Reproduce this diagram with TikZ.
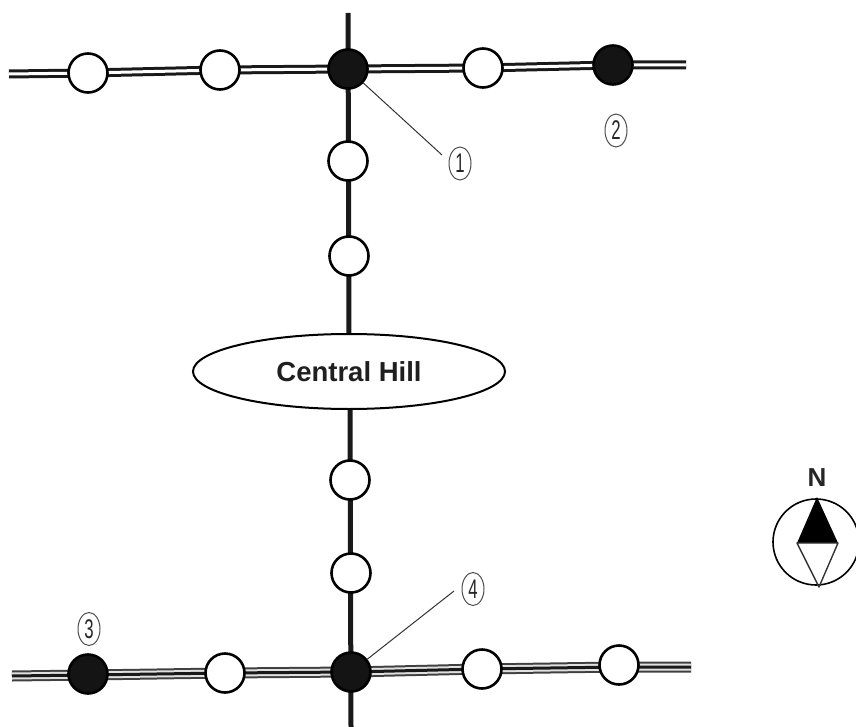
\documentclass[tikz,border=0pt]{standalone}
\usepackage{graphicx}
\usepackage{fontspec}
\setmainfont{Liberation Sans}
\usetikzlibrary{shapes.geometric}
\newcommand{\tagdigit}[1]{\scalebox{0.62}[1]{#1}}
\tikzset{
  x=1pt,y=-1pt,
  stop/.style={circle,draw=black,line width=2.6pt,fill=white,minimum size=39pt,inner sep=0pt},
  dark/.style={stop,fill=black!92},
  road/.style={line width=9pt,black!90},
  roadin/.style={line width=3pt,white},
  roadb/.style={line width=11pt,black!75},
  roadbin/.style={line width=7pt,black!12},
  roadbmid/.style={line width=3pt,black!90},
  rail/.style={line width=5pt,black!90},
  tag/.style={ellipse,draw=black!70,line width=1pt,minimum width=22pt,minimum height=33pt,inner sep=0pt,font=\fontsize{27}{27}\selectfont,text=black!85},
  leader/.style={line width=1pt,black!80},
  hill/.style={ellipse,draw=black,line width=2pt,fill=white,minimum width=312pt,minimum height=75pt,inner sep=0pt,font=\bfseries\fontsize{27.5}{29}\selectfont,text=black!88}
}
\begin{document}
\begin{tikzpicture}
\useasboundingbox (0,0) rectangle (856,727);
\coordinate (tl) at (9,74);
\coordinate (tr) at (686,65);
\coordinate (bl) at (12,676);
\coordinate (br) at (691,667);
\coordinate (vt) at (348,13);
\coordinate (vb) at (351,727);
\draw[road] (tl) -- (88,73) -- (220,70) -- (348,69) -- (483,68) -- (613,65) -- (tr);
\draw[roadin] (tl) -- (88,73) -- (220,70) -- (348,69) -- (483,68) -- (613,65) -- (tr);
\draw[roadb] (bl) -- (88,675) -- (225,673) -- (351,672) -- (481,669) -- (619,667) -- (br);
\draw[roadbin] (bl) -- (88,675) -- (225,673) -- (351,672) -- (481,669) -- (619,667) -- (br);
\draw[roadbmid] (bl) -- (88,675) -- (225,673) -- (351,672) -- (481,669) -- (619,667) -- (br);
\draw[rail] (vt) -- (349,340) (350,405) -- (vb);
\node[stop] (a1) at (88,73) {};
\node[stop] (a2) at (220,70) {};
\node[dark] (a3) at (348,69) {};
\node[stop] (a4) at (483,68) {};
\node[dark] (a5) at (613,65) {};
\node[stop] (v1) at (348,161) {};
\node[stop] (v2) at (349,256) {};
\node[hill] (h) at (349,371.5) {Central Hill};
\node[stop] (v3) at (350,480) {};
\node[stop] (v4) at (351,573) {};
\node[dark] (b1) at (88,674) {};
\node[stop] (b2) at (225,673) {};
\node[dark] (b3) at (351,672) {};
\node[stop] (b4) at (482,669) {};
\node[stop] (b5) at (619,665) {};
\node[tag] (t1) at (460,163.5) {\tagdigit{1}};
\node[tag] (t2) at (616,130.5) {\tagdigit{2}};
\node[tag] (t3) at (89,629) {\tagdigit{3}};
\node[tag] (t4) at (473,589) {\tagdigit{4}};
\coordinate (l1) at (442,155);
\coordinate (l4) at (454,591);
\draw[leader] (a3) -- (l1);
\draw[leader] (b3) -- (l4);
\node[font=\bfseries\fontsize{26}{26}\selectfont,text=black!85] (n) at (817,478) {N};
\node[circle,draw=black,line width=1.6pt,minimum size=86pt,inner sep=0pt] (c) at (816,542) {};
\coordinate (ca) at (817,497);
\coordinate (cl) at (797,543);
\coordinate (cr) at (838,543);
\coordinate (cb) at (819,587);
\fill[black] (ca) -- (cl) -- (cr) -- cycle;
\draw[line width=1.4pt,black!80,line join=round] (cl) -- (cb) -- (cr) -- cycle;
\end{tikzpicture}
\end{document}
